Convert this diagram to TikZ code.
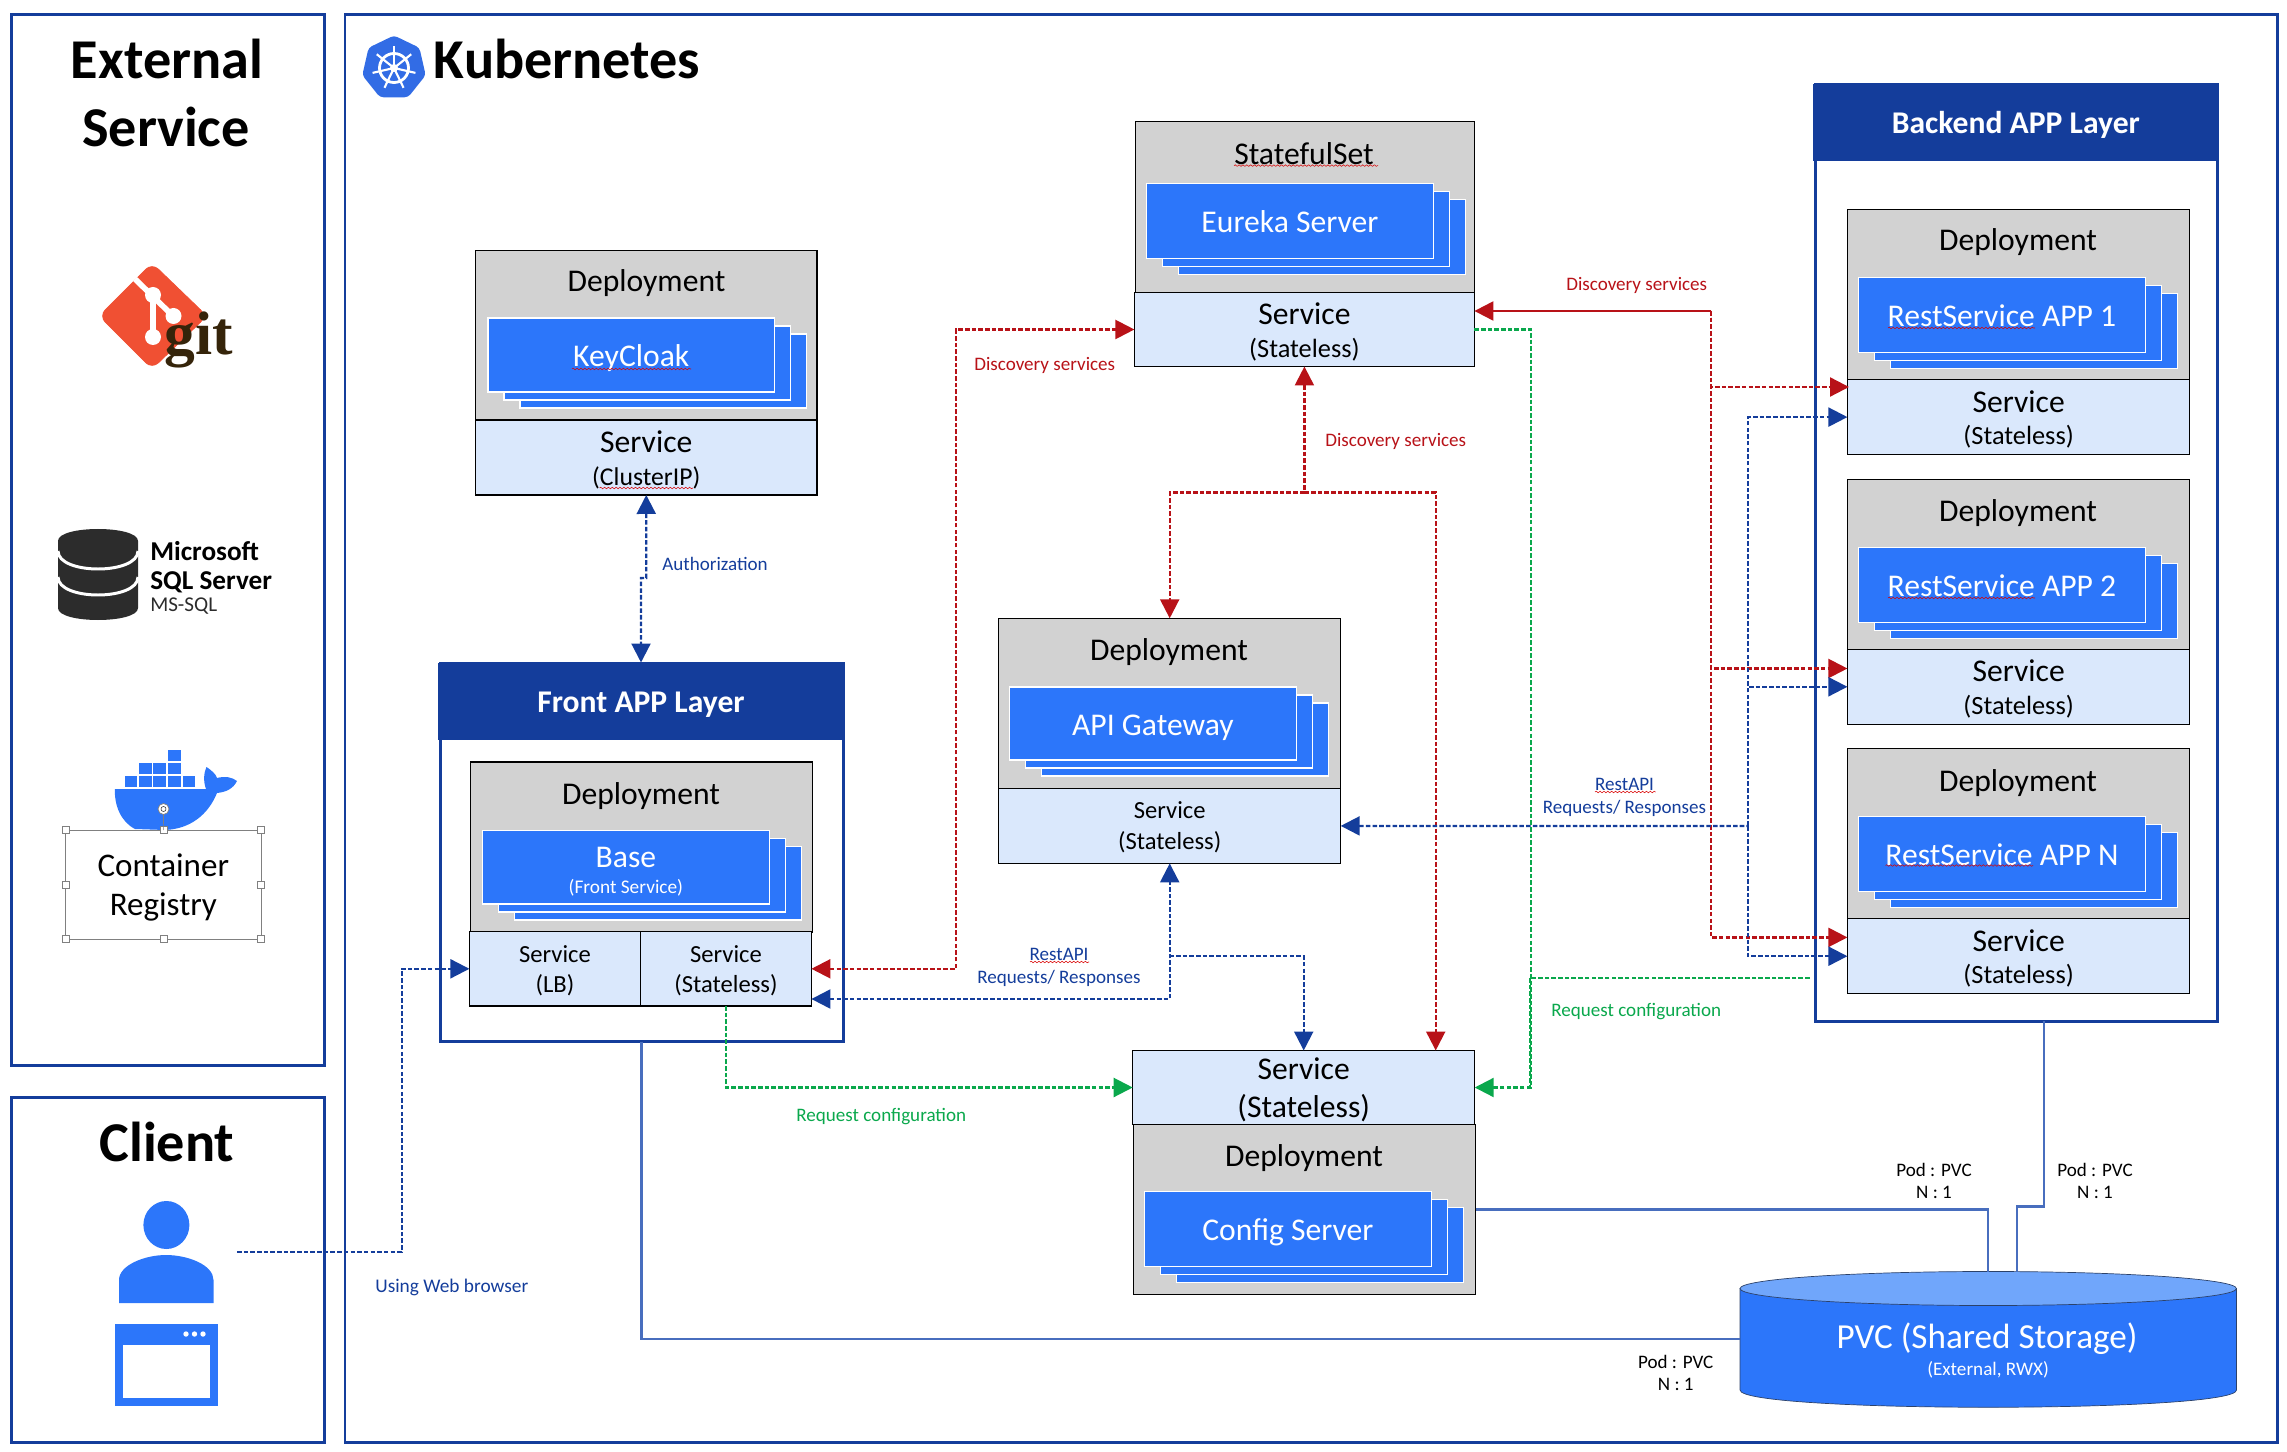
\documentclass[tikz,border=0pt]{standalone}
\usepackage{fontspec}
\setmainfont{Carlito}
\newfontfamily\gitfont{Liberation Serif}
\usetikzlibrary{arrows.meta, shapes.geometric, decorations.pathmorphing}
\definecolor{framecol}{RGB}{20, 61, 155}
\definecolor{appblue}{RGB}{44, 118, 250}
\definecolor{lightapp}{RGB}{112, 166, 251}
\definecolor{greycol}{RGB}{210, 210, 210}
\definecolor{svccol}{RGB}{218, 232, 252}
\definecolor{redcol}{RGB}{184, 18, 24}
\definecolor{greencol}{RGB}{10, 168, 76}
\definecolor{pvccol}{RGB}{72, 110, 190}
\definecolor{k8scol}{RGB}{50, 108, 229}
\definecolor{gitcol}{RGB}{240, 80, 51}
\definecolor{gitdark}{RGB}{53, 36, 10}
\definecolor{dbcol}{RGB}{44, 44, 44}
\newcommand{\pxu}{0.02cm}
\tikzset{
	framebox/.style={draw=framecol, line width=1.7pt, anchor=north west, inner sep=0, outer sep=0},
	layerbar/.style={fill=framecol, text=white, anchor=north west, inner sep=0, outer sep=0, text depth=0pt, text height=12.6pt, font=\fontsize{18}{19}\selectfont\bfseries},
	depbox/.style={draw=black, line width=0.6pt, fill=greycol, anchor=north west, inner sep=0, outer sep=0},
	svcbox/.style={draw=black, line width=0.6pt, fill=svccol, anchor=north west, inner sep=0, outer sep=0, align=center, text depth=0pt, font=\fontsize{18}{18.5}\selectfont},
	svctall/.style={svcbox, text height=31.4pt},
	cardbox/.style={draw=white, line width=0.6pt, fill=appblue, text=white, anchor=north west, inner sep=0, outer sep=0, align=center, text depth=0pt, text height=13.3pt, font=\fontsize{18}{15}\selectfont},
	deptitle/.style={anchor=base, inner sep=0, yshift=-0.02cm, font=\fontsize{18}{19}\selectfont},
	bigtitle/.style={anchor=base, inner sep=0, yshift=-0.04cm, font=\fontsize{32}{36}\selectfont\bfseries},
	note/.style={inner sep=0, align=center, font=\fontsize{10.85}{13}\selectfont},
	reddash/.style={draw=redcol, line width=1.25pt, dash pattern=on 2.6pt off 1.2pt},
	bluedash/.style={draw=framecol, line width=1.25pt, dash pattern=on 2.6pt off 1.2pt},
	greendash/.style={draw=greencol, line width=1.25pt, dash pattern=on 2.6pt off 1.2pt},
	pvcline/.style={draw=pvccol, line width=1.2pt},
	grip/.style={draw=gray, fill=white, line width=0.3pt, minimum size=7*\pxu, inner sep=0},
	squiggle/.style={draw=red!85!black, line width=0.3pt, decorate, decoration={snake, amplitude=0.45pt, segment length=2.2pt}},
}
\newcommand{\cardstack}[7][]{
	\node[cardbox, minimum width=#5*\pxu, minimum height=#6*\pxu] (#2back) at (#3+32, #4+16) {};
	\node[cardbox, minimum width=#5*\pxu, minimum height=#6*\pxu] (#2mid) at (#3+16, #4+8) {};
	\node[cardbox, minimum width=#5*\pxu, minimum height=#6*\pxu, #1] (#2) at (#3, #4) {#7};
}
\begin{document}
\begin{tikzpicture}[x=0.02cm, y=-0.02cm, >={Triangle[length=0.38cm, width=0.38cm]}]
	\useasboundingbox (0, 0) rectangle (2287, 1452);

	\node[framebox, minimum width=313*\pxu, minimum height=1050*\pxu] (externalframe) at (11.5, 15) {};
	\node[framebox, minimum width=313*\pxu, minimum height=345*\pxu] (clientframe) at (11.5, 1097) {};
	\node[framebox, minimum width=1932*\pxu, minimum height=1427*\pxu] (k8sframe) at (345, 15) {};
	\node[bigtitle] (externaltitle) at (167, 77) {External};
	\node[bigtitle] (externaltitleb) at (166, 145) {Service};
	\node[bigtitle] (clienttitle) at (167, 1159) {Client};
	\node[bigtitle, anchor=base west] (k8stitle) at (433.5, 77) {Kubernetes};

	\node[regular polygon, regular polygon sides=7, fill=k8scol, minimum size=65*\pxu, inner sep=0, rounded corners=2pt] (k8slogo) at (394, 68) {};
	\draw[white, line width=1.6pt] (k8slogo.center) circle[radius=14.5*\pxu];
	\fill[white] (k8slogo.center) circle[radius=4*\pxu];
	\foreach \a in {0, ..., 6}
		\draw[white, line width=1.2pt] (k8slogo.center) -- ++(90+\a*51.43:22*\pxu);

	\filldraw[color=gitcol, rounded corners=5pt] (152, 263) -- (207, 316) -- (152, 369) -- (99, 316) -- cycle;
	\draw[white, line width=3.2pt] (135, 279) -- (173, 316);
	\draw[white, line width=3.2pt] (153, 295) -- (153, 337);
	\fill[white] (153, 295) circle[radius=8*\pxu];
	\fill[white] (173.5, 316) circle[radius=8*\pxu];
	\fill[white] (153, 337) circle[radius=8*\pxu];
	\node[anchor=base west, inner sep=0, text=gitdark, font=\gitfont\fontsize{35}{36}\selectfont\bfseries] (gitname) at (164, 355) {git};

	\fill[dbcol] (58, 541) .. controls (58, 525) and (138, 525) .. (138, 541) -- (138, 608) .. controls (138, 624) and (58, 624) .. (58, 608) -- cycle;
	\draw[white, line width=1.7pt] (58, 551) .. controls (58, 575) and (138, 575) .. (138, 551);
	\draw[white, line width=1.7pt] (58, 577) .. controls (58, 601) and (138, 601) .. (138, 577);
	\node[anchor=base west, inner sep=0, font=\fontsize{15.5}{17}\selectfont\bfseries] (sqlnamea) at (150, 561) {Microsoft};
	\node[anchor=base west, inner sep=0, font=\fontsize{15.5}{17}\selectfont\bfseries] (sqlnameb) at (150, 589) {SQL Server};
	\node[anchor=base west, inner sep=0, text=dbcol, font=\fontsize{12}{14}\selectfont] (sqlnamec) at (150, 611.5) {MS-SQL};

	\foreach \cx/\cy in {124.7/776, 138.8/776, 153.4/776, 168/776, 182.7/776, 138.8/763, 153.4/763, 168/763, 168/749.5}
		\fill[appblue] (\cx, \cy) rectangle ++(12.7, 11.3);
	\fill[appblue] (115, 789) -- (206, 789) .. controls (203, 781) and (204, 772) .. (206.5, 767) .. controls (211, 770) and (216, 774) .. (217, 778) .. controls (225, 776) and (232, 777) .. (237, 781) .. controls (233, 789) and (226, 792) .. (217, 793) .. controls (208, 815) and (190, 829) .. (165, 830) -- (135, 829) .. controls (121, 822) and (114, 805) .. (115, 789) -- cycle;
	\node[draw=gray, line width=0.5pt, anchor=north west, inner sep=0, outer sep=0, minimum width=195.5*\pxu, minimum height=109*\pxu, align=center, text depth=0pt, font=\fontsize{18.8}{22.4}\selectfont] (registry) at (65.6, 830) {Container\\Registry};
	\foreach \a [count=\i] in {north west, north, north east, west, east, south west, south, south east}
		\node[grip] (grip\i) at (registry.\a) {};
	\node[circle, draw=gray, fill=white, line width=0.4pt, minimum size=11*\pxu, inner sep=0] (rotategrip) at (163.5, 809) {};
	\draw[gray, line width=0.4pt] (rotategrip) -- (registry.north);
	\draw[dbcol, line width=0.3pt] (rotategrip.center) circle[radius=2.5*\pxu];

	\fill[appblue] (166.4, 1225) ellipse[x radius=23*\pxu, y radius=24*\pxu];
	\fill[appblue] (119, 1303) -- (119, 1280) .. controls (119, 1265) and (145, 1255) .. (166, 1255) .. controls (188, 1255) and (213.5, 1265) .. (213.5, 1280) -- (213.5, 1303) -- cycle;
	\fill[appblue] (115, 1323.5) rectangle (218, 1406);
	\fill[white] (123, 1345) rectangle (210, 1398);
	\foreach \dx in {186, 194.5, 203}
		\fill[white] (\dx, 1334) circle[radius=2.7*\pxu];

	% deployments
	\node[depbox, minimum width=341.5*\pxu, minimum height=169.5*\pxu] (keycloakdep) at (475.5, 250.5) {};
	\node[svctall, minimum width=341.5*\pxu, minimum height=75*\pxu] (keycloaksvc) at (475.5, 420) {Service\\{\fontsize{14.6}{18.5}\selectfont (ClusterIP)}};
	\node[deptitle] (keycloaktitle) at (646.5, 291) {Deployment};
	\cardstack{keycloak}{488}{318}{286.5}{74}{KeyCloak}

	\node[depbox, minimum width=339*\pxu, minimum height=171*\pxu] (eurekadep) at (1135.7, 121.5) {};
	\node[svctall, minimum width=340*\pxu, minimum height=74*\pxu] (eurekasvc) at (1134.4, 292.5) {Service\\{\fontsize{15}{18.5}\selectfont (Stateless)}};
	\node[deptitle] (eurekatitle) at (1304, 163.5) {StatefulSet};
	\cardstack{eureka}{1146.4}{183.5}{287}{75}{Eureka Server}

	\node[depbox, minimum width=342*\pxu, minimum height=170*\pxu] (gatewaydep) at (998.7, 618.3) {};
	\node[svcbox, minimum width=342*\pxu, minimum height=75*\pxu, font=\fontsize{14}{17.6}\selectfont] (gatewaysvc) at (998.7, 788.4) {Service\\(Stateless)};
	\node[deptitle] (gatewaytitle) at (1169, 659) {Deployment};
	\cardstack{gateway}{1009.4}{687}{287}{73}{API Gateway}

	\node[framebox, fill=white, minimum width=403*\pxu, minimum height=378*\pxu] (frontlayer) at (440, 663.5) {};
	\node[layerbar, minimum width=406*\pxu, minimum height=77*\pxu] (frontbar) at (438, 662.5) {Front APP Layer};
	\node[depbox, minimum width=342*\pxu, minimum height=170*\pxu] (basedep) at (470.5, 762) {};
	\node[deptitle] (basetitle) at (641, 803) {Deployment};
	\cardstack[text height=30.4pt]{base}{482.4}{830.5}{287}{73.5}{Base\\{\fontsize{11}{15}\selectfont (Front Service)}}
	\node[svcbox, minimum width=171.2*\pxu, minimum height=74.4*\pxu, font=\fontsize{14}{16.8}\selectfont] (lbsvc) at (469.4, 931.6) {Service\\(LB)};
	\node[svcbox, minimum width=170.8*\pxu, minimum height=74.4*\pxu, font=\fontsize{14}{16.8}\selectfont] (frontsvc) at (640.6, 931.6) {Service\\(Stateless)};

	\node[svcbox, minimum width=342*\pxu, minimum height=74*\pxu, font=\fontsize{18}{21.5}\selectfont] (configsvc) at (1132.7, 1050.5) {Service\\(Stateless)};
	\node[depbox, minimum width=342*\pxu, minimum height=170*\pxu] (configdep) at (1133.7, 1124.5) {};
	\node[deptitle] (configtitle) at (1304, 1165) {Deployment};
	\cardstack{config}{1144.4}{1191.5}{287}{75}{Config Server}

	\node[framebox, fill=white, minimum width=402*\pxu, minimum height=936*\pxu] (backlayer) at (1815, 85) {};
	\node[layerbar, minimum width=405*\pxu, minimum height=77.5*\pxu] (backbar) at (1813.3, 83.7) {Backend APP Layer};

	\node[depbox, minimum width=342.4*\pxu, minimum height=170*\pxu] (appdepone) at (1847.4, 209.6) {};
	\node[svctall, minimum width=342.4*\pxu, minimum height=75*\pxu] (appsvcone) at (1847.4, 379.6) {Service\\{\fontsize{15}{18.5}\selectfont (Stateless)}};
	\node[deptitle] (apptitleone) at (2018, 249.7) {Deployment};
	\cardstack{appone}{1858.4}{277.4}{287}{75}{RestService APP 1}

	\node[depbox, minimum width=342.4*\pxu, minimum height=170*\pxu] (appdeptwo) at (1847.4, 479.6) {};
	\node[svctall, minimum width=342.4*\pxu, minimum height=75*\pxu] (appsvctwo) at (1847.4, 649.3) {Service\\{\fontsize{15}{18.5}\selectfont (Stateless)}};
	\node[deptitle] (apptitletwo) at (2018, 520.7) {Deployment};
	\cardstack{apptwo}{1858.4}{547.5}{287}{75}{RestService APP 2}

	\node[depbox, minimum width=342.4*\pxu, minimum height=170*\pxu] (appdepn) at (1847.4, 748.4) {};
	\node[svctall, minimum width=342.4*\pxu, minimum height=75*\pxu] (appsvcn) at (1847.4, 918.7) {Service\\{\fontsize{15}{18.5}\selectfont (Stateless)}};
	\node[deptitle] (apptitlen) at (2018, 790) {Deployment};
	\cardstack{appn}{1858.4}{816.5}{287}{75}{RestService APP N}

	\fill[appblue] (1740, 1288) -- (1740, 1390) .. controls (1740, 1413) and (2236.5, 1413) .. (2236.5, 1390) -- (2236.5, 1288) -- cycle;
	\draw[dbcol!70!appblue, line width=0.4pt] (1740, 1288) -- (1740, 1390) .. controls (1740, 1413) and (2236.5, 1413) .. (2236.5, 1390) -- (2236.5, 1288);
	\filldraw[color=lightapp, draw=dbcol!70!appblue, line width=0.4pt] (1988.2, 1288.5) ellipse[x radius=248.2*\pxu, y radius=17*\pxu];
	\node[inner sep=0, anchor=base, text=white, font=\fontsize{20}{22}\selectfont] (pvcname) at (1987, 1348.5) {PVC (Shared Storage)};
	\node[inner sep=0, anchor=base, text=white, font=\fontsize{10.9}{13}\selectfont] (pvcnote) at (1988, 1375) {(External, RWX)};

	\coordinate (pvcleft) at (1740, 1339);
	\coordinate (pvctopa) at (1988.4, 1272);
	\coordinate (pvctopb) at (2017, 1272);
	\coordinate (backdrop) at (2044, 1021);
	\coordinate (pvcjog) at (2017, 1206.5);
	\draw[pvcline] (frontlayer.south) |- (pvcleft);
	\draw[pvcline] (configdep.east) -| (pvctopa);
	\draw[pvcline] (backdrop) |- (pvcjog) -- (pvctopb);

	\coordinate (authjog) at (646.3, 578);
	\draw[bluedash, <->] (keycloaksvc.south) -- (authjog) -| (frontbar.north);

	\coordinate (clientout) at (237, 1252);
	\coordinate (clientbend) at (401.6, 968.8);
	\draw[bluedash, ->] (clientout) -| (clientbend) -- (lbsvc.west);

	\coordinate (eurekaleft) at (956, 329.5);
	\draw[reddash, <->] (frontsvc.east) -| (eurekaleft) -- (eurekasvc.west);
	\coordinate (discsplit) at (1304.4, 492.5);
	\coordinate (configred) at (1435.7, 1050.5);
	\draw[reddash, <-] (eurekasvc.south) -- (discsplit);
	\draw[reddash, ->] (discsplit) -| (gatewaydep.north);
	\draw[reddash, ->] (discsplit) -| (configred);

	\coordinate (redbus) at (1711, 311);
	\coordinate (redone) at (1849, 387);
	\coordinate (redtwo) at (1847.4, 668.5);
	\coordinate (redn) at (1847.4, 937.4);
	\draw[draw=redcol, line width=1.25pt, <-] (eurekasvc.east |- redbus) -- (redbus);
	\draw[reddash, ->] (redbus) |- (redone);
	\draw[reddash, ->] (redbus) |- (redtwo);
	\draw[reddash, ->] (redbus) |- (redn);

	\coordinate (restbus) at (1748, 826);
	\draw[bluedash, <-] (gatewaysvc.east) -- (restbus);
	\draw[bluedash, ->] (restbus) |- (appsvcone.west);
	\draw[bluedash, ->] (restbus) |- (appsvctwo.west);
	\draw[bluedash, ->] (restbus) |- (appsvcn.west);

	\coordinate (frontrest) at (811.4, 999);
	\coordinate (gatewaybranch) at (1169.4, 956);
	\draw[bluedash, <->] (frontrest) -| (gatewaysvc.south);
	\draw[bluedash, ->] (gatewaybranch) -| (configsvc.north);

	\coordinate (greenjoin) at (1531, 1087.5);
	\coordinate (greenjoinb) at (1529.6, 1087.5);
	\coordinate (backgreen) at (1809.7, 977.7);
	\draw[greendash, ->] (frontsvc.south) |- (configsvc.west);
	\draw[greendash, ->] (eurekasvc.east) -| (greenjoin) -- (configsvc.east);
	\draw[greendash] (backgreen) -| (greenjoinb);

	\node[note, anchor=base west, text=framecol] (authnote) at (662, 570.5) {Authorization};
	\node[note, anchor=base west, text=framecol, font=\fontsize{11}{13}\selectfont] (browsernote) at (375, 1292) {Using Web browser};
	\node[note, anchor=base west, text=redcol] (discnotea) at (974, 371) {Discovery services};
	\node[note, anchor=base west, text=redcol] (discnoteb) at (1325, 446.4) {Discovery services};
	\node[note, anchor=base west, text=redcol] (discnotec) at (1566, 291) {Discovery services};
	\node[note, text=framecol] (restnotea) at (1059, 967.5) {RestAPI\\Requests/ Responses};
	\node[note, text=framecol] (restnoteb) at (1624.5, 797.5) {RestAPI\\Requests/ Responses};
	\node[note, anchor=base west, text=greencol] (confignotea) at (796, 1121) {Request configuration};
	\node[note, anchor=base west, text=greencol] (confignoteb) at (1551, 1016.5) {Request configuration};
	\node[note] (podnotea) at (1934, 1181) {Pod : PVC\\N : 1};
	\node[note] (podnoteb) at (2095, 1181) {Pod : PVC\\N : 1};
	\node[note] (podnotec) at (1675.7, 1373) {Pod : PVC\\N : 1};

	\foreach \xa/\xb/\ya in {572/691/369, 1234/1378/165.6, 599.5/693/488, 1888/2035/328, 1888/2035/598, 1885.5/2033/865.5, 1595/1655.6/792, 1030/1089/962}
		\draw[squiggle] (\xa, \ya) -- (\xb, \ya);
\end{tikzpicture}
\end{document}
